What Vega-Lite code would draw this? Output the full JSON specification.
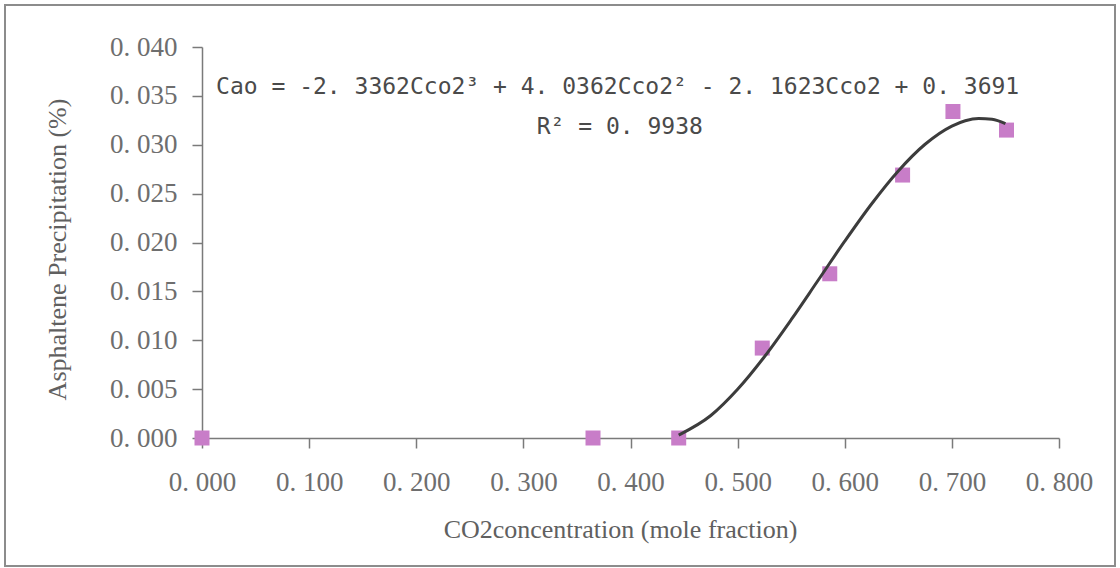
{
  "$schema": "https://vega.github.io/schema/vega-lite/v6.json",
  "width": 1110,
  "height": 561,
  "autosize": {"type": "none"},
  "padding": {"left": 5, "top": 5, "right": 5, "bottom": 2},
  "background": "white",
  "config": {
    "view": {"stroke": "#8c8c8c", "strokeWidth": 2},
    "axis": {
      "grid": false,
      "domainColor": "#7a7a7a",
      "domainWidth": 1.5,
      "tickColor": "#7a7a7a",
      "tickWidth": 1.5,
      "labelFont": "Liberation Serif",
      "labelFontSize": 27,
      "labelColor": "#6e6e6e",
      "titleFont": "Liberation Serif",
      "titleFontSize": 26,
      "titleFontWeight": "normal",
      "titleColor": "#606060",
      "labelOverlap": false,
      "labelFlush": false
    }
  },
  "datasets": {
    "obs": [
      {"x": 0.0, "y": 0.0},
      {"x": 0.365, "y": 0.0},
      {"x": 0.445, "y": 0.0},
      {"x": 0.523, "y": 0.0092},
      {"x": 0.586, "y": 0.0168},
      {"x": 0.654, "y": 0.0269},
      {"x": 0.701, "y": 0.0334},
      {"x": 0.751, "y": 0.0315}
    ],
    "fit": [
      {"x": 0.445, "y": 0.0003},
      {"x": 0.475, "y": 0.0023},
      {"x": 0.5, "y": 0.00498},
      {"x": 0.525, "y": 0.00831},
      {"x": 0.55, "y": 0.0121},
      {"x": 0.575, "y": 0.01611},
      {"x": 0.6, "y": 0.02013},
      {"x": 0.625, "y": 0.02394},
      {"x": 0.65, "y": 0.02732},
      {"x": 0.675, "y": 0.03005},
      {"x": 0.7, "y": 0.03191},
      {"x": 0.7125, "y": 0.03246},
      {"x": 0.725, "y": 0.03269},
      {"x": 0.7375, "y": 0.0326},
      {"x": 0.75, "y": 0.03215}
    ],
    "notes": [
      {"x": 0.388, "y": 0.0359, "label": "Cao = -2. 3362Cco2³ + 4. 0362Cco2² - 2. 1623Cco2 + 0. 3691"},
      {"x": 0.39, "y": 0.0318, "label": "R² = 0. 9938"}
    ]
  },
  "layer": [
    {
      "mark": {"type": "rule", "color": "#c4c4c4", "strokeWidth": 1.5},
      "encoding": {
        "x": {"datum": 0, "type": "quantitative"},
        "x2": {"datum": 0.8},
        "y": {"datum": 0.04, "type": "quantitative"}
      }
    },
    {
      "mark": {"type": "rule", "color": "#c4c4c4", "strokeWidth": 1.5},
      "encoding": {
        "x": {"datum": 0.8, "type": "quantitative"},
        "y": {"datum": 0, "type": "quantitative"},
        "y2": {"datum": 0.04}
      }
    },
    {
      "data": {"name": "obs"},
      "mark": {"type": "point", "shape": "square", "filled": true, "size": 225, "color": "#c87dc8", "opacity": 1},
      "encoding": {
        "x": {
          "field": "x",
          "type": "quantitative",
          "scale": {"domain": [0, 0.8], "range": [197, 1054], "nice": false, "zero": false},
          "axis": {
            "title": "CO2concentration (mole fraction)",
            "values": [0, 0.1, 0.2, 0.3, 0.4, 0.5, 0.6, 0.7, 0.8],
            "labelExpr": "replace(format(datum.value, '.3f'), '.', '. ')",
            "offset": -128,
            "tickSize": 10,
            "labelPadding": 21,
            "titleX": 615,
            "titleY": 99,
            "titleBaseline": "alphabetic",
            "titleAlign": "center"
          }
        },
        "y": {
          "field": "y",
          "type": "quantitative",
          "scale": {"domain": [0, 0.04], "range": [433, 42], "nice": false, "zero": false},
          "axis": {
            "title": "Asphaltene Precipitation (%)",
            "values": [0, 0.005, 0.01, 0.015, 0.02, 0.025, 0.03, 0.035, 0.04],
            "labelExpr": "replace(format(datum.value, '.3f'), '.', '. ')",
            "offset": -197,
            "tickSize": 10,
            "labelPadding": 15,
            "titleX": -137,
            "titleY": 244,
            "titleAngle": -90,
            "titleBaseline": "alphabetic",
            "titleAlign": "center"
          }
        }
      }
    },
    {
      "data": {"name": "fit"},
      "mark": {"type": "line", "color": "#3c3c3c", "strokeWidth": 3, "interpolate": "monotone"},
      "encoding": {
        "x": {"field": "x", "type": "quantitative"},
        "y": {"field": "y", "type": "quantitative"}
      }
    },
    {
      "data": {"name": "notes"},
      "mark": {"type": "text", "font": "DejaVu Sans Mono", "fontSize": 23, "color": "#4a4a4a", "align": "center", "baseline": "middle"},
      "encoding": {
        "x": {"field": "x", "type": "quantitative"},
        "y": {"field": "y", "type": "quantitative"},
        "text": {"field": "label"}
      }
    }
  ]
}
